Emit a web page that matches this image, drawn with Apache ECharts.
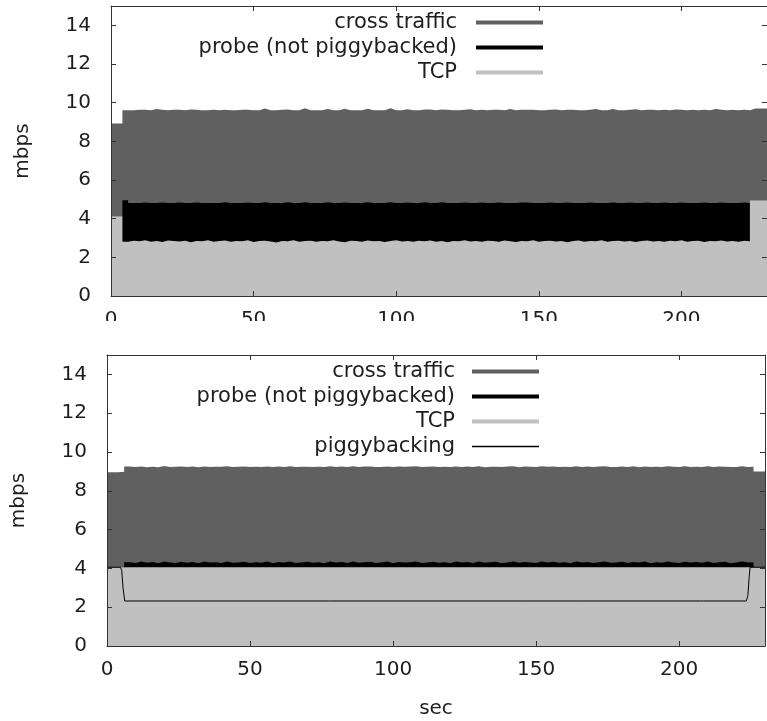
<!DOCTYPE html>
<html>
<head>
<meta charset="utf-8">
<script src="https://cdn.jsdelivr.net/npm/echarts@6/dist/echarts.min.js"></script>
<style>
html, body { margin: 0; padding: 0; background: #fff; }
#chart { width: 767px; height: 721px; }
</style>
</head>
<body>
<div id="chart"></div>
<script>
// Sample times (sec), shared by the rate series of both panels
const time = [
  0, 2, 4, 6, 8, 10, 12, 14, 16, 18, 20, 22, 24, 26, 28, 30, 32, 34, 36, 38,
  40, 42, 44, 46, 48, 50, 52, 54, 56, 58, 60, 62, 64, 66, 68, 70, 72, 74, 76, 78,
  80, 82, 84, 86, 88, 90, 92, 94, 96, 98, 100, 102, 104, 106, 108, 110, 112, 114, 116, 118,
  120, 122, 124, 126, 128, 130, 132, 134, 136, 138, 140, 142, 144, 146, 148, 150, 152, 154, 156, 158,
  160, 162, 164, 166, 168, 170, 172, 174, 176, 178, 180, 182, 184, 186, 188, 190, 192, 194, 196, 198,
  200, 202, 204, 206, 208, 210, 212, 214, 216, 218, 220, 222, 224, 226, 228, 230
];

// Upper panel: rates in mbps
const topTcp = [
  4.12, 4.12,
  2.80, 2.86, 2.83, 2.88, 2.81, 2.85, 2.79, 2.87, 2.84, 2.82,
  2.86, 2.78, 2.85, 2.83, 2.89, 2.80, 2.84, 2.87, 2.81, 2.85,
  2.83, 2.88, 2.79, 2.84, 2.86, 2.82, 2.77, 2.85, 2.83, 2.88,
  2.81, 2.84, 2.86, 2.80, 2.85, 2.83, 2.89, 2.82, 2.78, 2.86,
  2.84, 2.81, 2.87, 2.83, 2.85, 2.79, 2.84, 2.88, 2.82, 2.85,
  2.80, 2.86, 2.83, 2.87, 2.81, 2.84, 2.78, 2.85, 2.83, 2.88,
  2.82, 2.85, 2.80, 2.86, 2.84, 2.81, 2.87, 2.83, 2.79, 2.85,
  2.83, 2.88, 2.81, 2.84, 2.86, 2.82, 2.85, 2.78, 2.84, 2.87,
  2.81, 2.85, 2.83, 2.89, 2.80, 2.84, 2.86, 2.82, 2.85, 2.79,
  2.84, 2.87, 2.82, 2.85, 2.80, 2.86, 2.83, 2.88, 2.81, 2.84,
  2.86, 2.79, 2.85, 2.83, 2.87, 2.82, 2.84, 2.80, 2.86, 2.83,
  4.95, 4.95, 4.95, 4.95
];
const topProbe = [
  0, 0,
  2.15, 1.95, 1.98, 1.96, 2.00, 1.96, 2.05, 1.94, 1.97, 2.01,
  1.95, 2.03, 1.99, 1.98, 1.92, 2.01, 1.97, 1.98, 2.00, 1.96,
  1.98, 1.96, 2.02, 1.97, 1.99, 1.99, 2.04, 1.96, 2.02, 1.93,
  2.00, 2.01, 1.95, 2.01, 1.96, 2.02, 1.92, 1.99, 2.06, 1.95,
  1.97, 2.00, 1.98, 1.98, 1.96, 2.02, 2.01, 1.93, 1.99, 1.99,
  2.01, 1.95, 2.02, 1.94, 2.00, 2.01, 2.03, 1.96, 1.98, 1.96,
  1.99, 1.96, 2.04, 1.95, 1.97, 2.03, 1.94, 1.98, 2.02, 1.99,
  2.01, 1.93, 2.00, 1.97, 1.98, 1.99, 1.96, 2.06, 1.97, 1.94,
  2.00, 1.99, 1.98, 1.92, 2.01, 2.00, 1.95, 1.99, 1.99, 2.02,
  1.97, 1.97, 1.99, 1.96, 2.04, 1.95, 1.98, 1.96, 2.00, 1.97,
  1.95, 2.05, 1.96, 1.98, 1.97, 1.99, 1.97, 2.01, 1.98, 1.98,
  0, 0, 0, 0
];
const topCross = [
  4.80, 4.80,
  4.66, 4.80, 4.83, 4.80, 4.80, 4.86, 4.80, 4.80, 4.82, 4.80,
  4.80, 4.84, 4.80, 4.80, 4.80, 4.83, 4.80, 4.78, 4.80, 4.80,
  4.82, 4.80, 4.80, 4.80, 4.85, 4.80, 4.80, 4.83, 4.80, 4.80,
  4.80, 4.86, 4.80, 4.80, 4.80, 4.82, 4.80, 4.80, 4.84, 4.80,
  4.80, 4.80, 4.83, 4.80, 4.80, 4.80, 4.86, 4.80, 4.80, 4.82,
  4.80, 4.80, 4.80, 4.84, 4.80, 4.80, 4.83, 4.80, 4.80, 4.80,
  4.85, 4.80, 4.80, 4.80, 4.82, 4.80, 4.80, 4.86, 4.80, 4.80,
  4.80, 4.83, 4.80, 4.80, 4.80, 4.84, 4.80, 4.80, 4.82, 4.80,
  4.80, 4.80, 4.86, 4.80, 4.80, 4.83, 4.80, 4.80, 4.80, 4.85,
  4.80, 4.80, 4.82, 4.80, 4.80, 4.80, 4.84, 4.80, 4.80, 4.83,
  4.80, 4.80, 4.80, 4.86, 4.80, 4.80, 4.82, 4.80, 4.80, 4.80,
  4.75, 4.75, 4.75, 4.75
];

// Lower panel: rates in mbps
const botTcp = [
  4.06, 4.06, 4.06, 4.06, 4.06, 4.06, 4.06, 4.06, 4.06, 4.06, 4.06, 4.06,
  4.06, 4.06, 4.06, 4.06, 4.06, 4.06, 4.06, 4.06, 4.06, 4.06, 4.06, 4.06,
  4.06, 4.06, 4.06, 4.06, 4.06, 4.06, 4.06, 4.06, 4.06, 4.06, 4.06, 4.06,
  4.06, 4.06, 4.06, 4.06, 4.06, 4.06, 4.06, 4.06, 4.06, 4.06, 4.06, 4.06,
  4.06, 4.06, 4.06, 4.06, 4.06, 4.06, 4.06, 4.06, 4.06, 4.06, 4.06, 4.06,
  4.06, 4.06, 4.06, 4.06, 4.06, 4.06, 4.06, 4.06, 4.06, 4.06, 4.06, 4.06,
  4.06, 4.06, 4.06, 4.06, 4.06, 4.06, 4.06, 4.06, 4.06, 4.06, 4.06, 4.06,
  4.06, 4.06, 4.06, 4.06, 4.06, 4.06, 4.06, 4.06, 4.06, 4.06, 4.06, 4.06,
  4.06, 4.06, 4.06, 4.06, 4.06, 4.06, 4.06, 4.06, 4.06, 4.06, 4.06, 4.06,
  4.06, 4.06, 4.06, 4.06, 4.06, 4.06, 4.06, 4.06
];
const botProbe = [
  0, 0, 0,
  0.26, 0.22, 0.29, 0.23, 0.27, 0.21, 0.30, 0.24, 0.22, 0.28,
  0.23, 0.27, 0.21, 0.29, 0.24, 0.26, 0.22, 0.30, 0.23, 0.25,
  0.28, 0.22, 0.26, 0.23, 0.29, 0.21, 0.27, 0.24, 0.30, 0.22,
  0.25, 0.28, 0.23, 0.26, 0.21, 0.29, 0.24, 0.27, 0.22, 0.30,
  0.23, 0.26, 0.28, 0.22, 0.25, 0.29, 0.21, 0.27, 0.24, 0.26,
  0.30, 0.22, 0.25, 0.28, 0.23, 0.26, 0.21, 0.29, 0.24, 0.27,
  0.22, 0.30, 0.23, 0.26, 0.28, 0.21, 0.25, 0.29, 0.23, 0.27,
  0.24, 0.22, 0.30, 0.25, 0.28, 0.23, 0.26, 0.21, 0.29, 0.24,
  0.27, 0.22, 0.26, 0.30, 0.23, 0.25, 0.28, 0.22, 0.27, 0.24,
  0.29, 0.21, 0.26, 0.23, 0.30, 0.25, 0.22, 0.28, 0.24, 0.27,
  0.23, 0.29, 0.22, 0.26, 0.28, 0.21, 0.25, 0.30, 0.24, 0.26,
  0, 0, 0
];
const botCross = [
  4.89, 4.89, 4.92,
  4.93, 4.95, 4.90, 4.93, 4.91, 4.95, 4.92, 4.93, 4.96, 4.91,
  4.94, 4.92, 4.95, 4.90, 4.93, 4.92, 4.96, 4.91, 4.94, 4.93,
  4.91, 4.95, 4.92, 4.94, 4.90, 4.96, 4.92, 4.93, 4.91, 4.95,
  4.93, 4.90, 4.94, 4.92, 4.96, 4.91, 4.93, 4.92, 4.95, 4.90,
  4.94, 4.93, 4.91, 4.95, 4.92, 4.90, 4.96, 4.92, 4.94, 4.93,
  4.90, 4.95, 4.93, 4.91, 4.94, 4.92, 4.96, 4.90, 4.93, 4.92,
  4.95, 4.91, 4.93, 4.92, 4.90, 4.96, 4.94, 4.91, 4.93, 4.92,
  4.94, 4.95, 4.90, 4.93, 4.91, 4.94, 4.92, 4.96, 4.91, 4.93,
  4.92, 4.95, 4.93, 4.90, 4.94, 4.92, 4.91, 4.95, 4.93, 4.92,
  4.90, 4.96, 4.92, 4.94, 4.91, 4.93, 4.95, 4.92, 4.93, 4.91,
  4.94, 4.91, 4.95, 4.93, 4.90, 4.96, 4.92, 4.91, 4.93, 4.92,
  4.94, 4.94, 4.94
];

// Piggybacking rate (lower panel), own sample times
const pigTime = [0, 4.68, 5.15, 5.6, 6.2, 77.5, 78, 78.6, 145, 145.5, 146.1,
  166, 166.5, 167.1, 207.5, 208, 208.6, 216, 216.5, 217.1, 223.5, 224.0, 224.5, 224.8, 230];
const pigRate = [4.06, 4.06, 3.9, 3.0, 2.32, 2.32, 2.37, 2.32, 2.32, 2.37, 2.32,
  2.32, 2.37, 2.32, 2.32, 2.37, 2.32, 2.32, 2.37, 2.32, 2.32, 2.6, 3.6, 4.06, 4.06];

const xTicks = { min: 0, max: 230, step: 50 };
const yTicks = { min: 0, max: 15, step: 2 };

const FONT = 'DejaVu Sans';
const INK = '#1e1e1e';
const FRAME = '#333333';
const C_CROSS = '#606060';
const C_PROBE = '#000000';
const C_TCP = '#c0c0c0';

// Each band is drawn as an area from zero up to its cumulative level,
// lowest band last so it paints over the ones above it.
function cumulative(...parts) {
  return parts[0].map((_, i) => parts.reduce((s, p) => s + p[i], 0));
}
function pairs(xs, ys) { return xs.map((x, i) => [x, +ys[i].toFixed(3)]); }

function band(name, gi, levels, color) {
  return {
    name, type: 'line', xAxisIndex: gi * 2, yAxisIndex: gi * 2,
    step: 'end', symbol: 'none', silent: true,
    data: pairs(time, levels),
    lineStyle: { width: 0 },
    itemStyle: { color },
    areaStyle: { color, opacity: 1 },
    z: 2
  };
}

function xAxisPair(gi, named) {
  const common = {
    gridIndex: gi, type: 'value', min: xTicks.min, max: xTicks.max, interval: xTicks.step,
    axisLine: { show: true, onZero: false, lineStyle: { color: FRAME, width: 1 } },
    axisTick: { show: true, inside: true, length: 5, lineStyle: { color: FRAME } },
    splitLine: { show: false }, z: 10
  };
  const bottom = Object.assign({}, common, {
    position: 'bottom',
    axisLabel: { show: true, margin: 14, fontSize: 20, fontFamily: FONT, color: INK, showMaxLabel: false }
  });
  if (named) {
    Object.assign(bottom, {
      name: 'sec', nameLocation: 'middle', nameGap: 53,
      nameTextStyle: { fontSize: 20, fontFamily: FONT, color: INK }
    });
  }
  const top = Object.assign({}, common, { position: 'top', axisLabel: { show: false } });
  return [bottom, top];
}

function yAxisPair(gi) {
  const common = {
    gridIndex: gi, type: 'value', min: yTicks.min, max: yTicks.max, interval: yTicks.step,
    axisLine: { show: true, onZero: false, lineStyle: { color: FRAME, width: 1 } },
    axisTick: { show: true, inside: true, length: 5, lineStyle: { color: FRAME } },
    splitLine: { show: false }, z: 10
  };
  const left = Object.assign({}, common, {
    position: 'left',
    axisLabel: { show: true, margin: 20, fontSize: 20, fontFamily: FONT, color: INK, showMaxLabel: false },
    name: 'mbps', nameLocation: 'middle', nameGap: 78,
    nameTextStyle: { fontSize: 20, fontFamily: FONT, color: INK }
  });
  const right = Object.assign({}, common, { position: 'right', axisLabel: { show: false } });
  return [left, right];
}

// One key per legend row, right-aligned with the sample line on the right
function key(name, color, thick, right, top, gap) {
  return {
    data: [{ name, icon: 'rect', itemStyle: { color } }],
    right, top, align: 'right', orient: 'vertical',
    itemWidth: 67, itemHeight: thick, padding: 0, selectedMode: false,
    textStyle: { fontSize: 21, fontFamily: FONT, color: INK, padding: [0, gap, 0, 0] }
  };
}

const topMid = cumulative(topTcp, topProbe);
const topAll = cumulative(topTcp, topProbe, topCross);
const botMid = cumulative(botTcp, botProbe);
const botAll = cumulative(botTcp, botProbe, botCross);

const option = {
  animation: false,
  backgroundColor: '#ffffff',
  textStyle: { fontFamily: FONT },
  grid: [
    { left: 111, top: 6, width: 658, height: 290 },
    { left: 107, top: 355, width: 658, height: 291 }
  ],
  xAxis: [...xAxisPair(0, false), ...xAxisPair(1, true)],
  yAxis: [...yAxisPair(0), ...yAxisPair(1)],
  legend: [
    key('cross traffic', C_CROSS, 4, 224, 12, 14),
    key('probe (not piggybacked)', C_PROBE, 4, 224, 37, 14),
    key('TCP', C_TCP, 4, 224, 62, 14),
    key('cross traffic', C_CROSS, 4, 228, 361, 12),
    key('probe (not piggybacked)', C_PROBE, 4, 228, 386, 12),
    key('TCP', C_TCP, 4, 228, 411, 12),
    key('piggybacking', '#000000', 1.6, 228, 436, 12)
  ],
  graphic: [
    // the upper plot's tick labels are cut off where the lower plot begins
    { type: 'rect', shape: { x: 0, y: 321, width: 767, height: 32 }, style: { fill: '#ffffff' }, z: 100 }
  ],
  series: [
    band('cross traffic', 0, topAll, C_CROSS),
    band('probe (not piggybacked)', 0, topMid, C_PROBE),
    band('TCP', 0, topTcp, C_TCP),
    band('cross traffic', 1, botAll, C_CROSS),
    band('probe (not piggybacked)', 1, botMid, C_PROBE),
    band('TCP', 1, botTcp, C_TCP),
    {
      name: 'piggybacking', type: 'line', xAxisIndex: 2, yAxisIndex: 2,
      symbol: 'none', silent: true,
      data: pairs(pigTime, pigRate),
      lineStyle: { color: '#000000', width: 1 },
      itemStyle: { color: '#000000' },
      z: 3
    }
  ]
};

const chart = echarts.init(document.getElementById('chart'), null, { renderer: 'canvas' });
chart.setOption(option);
</script>
</body>
</html>
